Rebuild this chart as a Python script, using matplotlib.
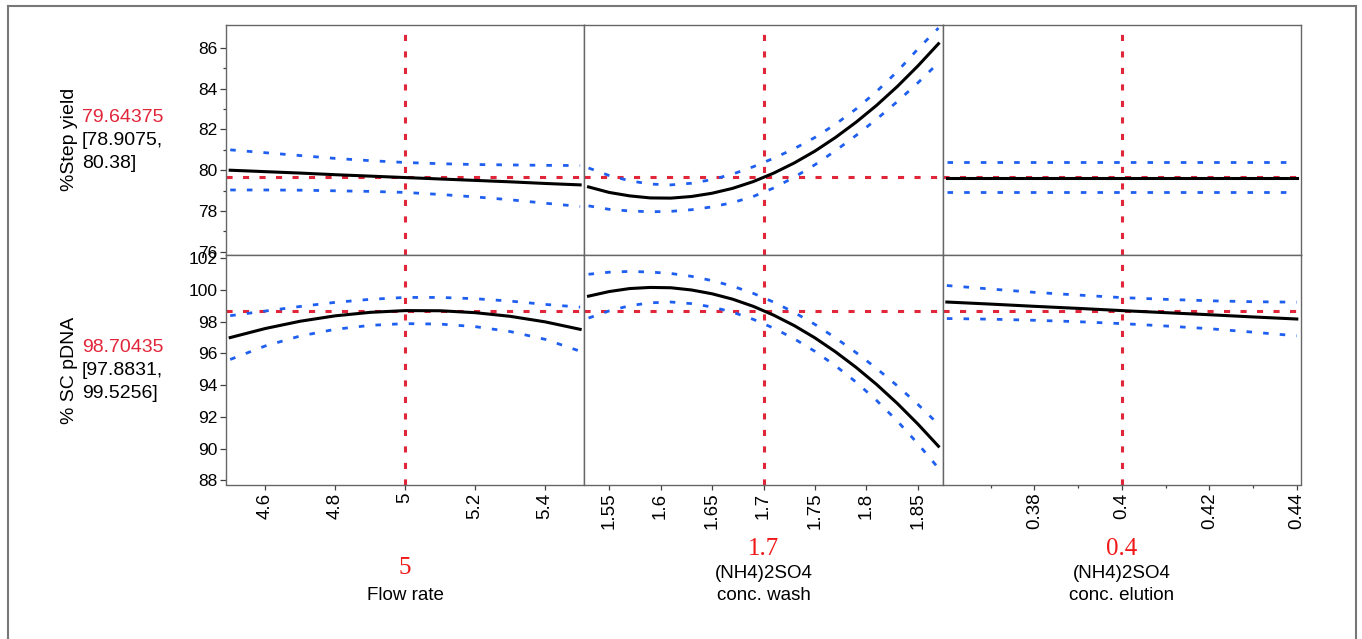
#!/usr/bin/env python3
"""
Prediction profiler for the pDNA capture step.

Two responses (step yield, supercoiled pDNA) against three factors
(flow rate, (NH4)2SO4 wash and elution concentration), with the
prediction trace, its confidence band and the current settings.
"""

import matplotlib
matplotlib.use('Agg')
import matplotlib.pyplot as plt
from matplotlib.lines import Line2D
from matplotlib.ticker import FixedLocator, FuncFormatter

# Factor grids
flow_x = [4.5, 4.6, 4.7, 4.8, 4.9, 5.0, 5.1, 5.2, 5.3, 5.4, 5.5]
wash_x = [1.53, 1.55, 1.57, 1.59, 1.61, 1.63, 1.65, 1.67, 1.69,
          1.71, 1.73, 1.75, 1.77, 1.79, 1.81, 1.83, 1.85, 1.87]
elution_x = [0.36, 0.37, 0.38, 0.39, 0.40, 0.41, 0.42, 0.43, 0.44]

# %Step yield traces
yield_flow_pred = [80.00, 79.93, 79.86, 79.78, 79.71, 79.64, 79.57, 79.50, 79.43, 79.35, 79.28]
yield_flow_hi = [81.00, 80.86, 80.72, 80.58, 80.47, 80.38, 80.32, 80.28, 80.26, 80.24, 80.23]
yield_flow_lo = [79.03, 79.03, 79.02, 78.99, 78.96, 78.91, 78.81, 78.69, 78.55, 78.38, 78.22]

yield_wash_pred = [79.18, 78.91, 78.74, 78.64, 78.63, 78.71, 78.87, 79.11, 79.44,
                   79.86, 80.36, 80.94, 81.61, 82.36, 83.19, 84.11, 85.12, 86.21]
yield_wash_hi = [80.11, 79.74, 79.48, 79.32, 79.28, 79.36, 79.54, 79.81, 80.17,
                 80.59, 81.06, 81.61, 82.26, 83.01, 83.87, 84.85, 85.95, 86.98]
yield_wash_lo = [78.25, 78.08, 78.00, 77.96, 77.98, 78.06, 78.20, 78.41, 78.71,
                 79.13, 79.66, 80.27, 80.96, 81.71, 82.51, 83.37, 84.29, 85.28]

yield_elution_pred = [79.64, 79.64, 79.64, 79.64, 79.64, 79.64, 79.64, 79.64, 79.64]
yield_elution_hi = [80.38, 80.38, 80.38, 80.38, 80.38, 80.38, 80.38, 80.38, 80.38]
yield_elution_lo = [78.91, 78.91, 78.91, 78.91, 78.91, 78.91, 78.91, 78.91, 78.91]

# % SC pDNA traces
pdna_flow_pred = [97.00, 97.57, 98.03, 98.37, 98.59, 98.70, 98.69, 98.57, 98.34, 97.99, 97.52]
pdna_flow_hi = [98.38, 98.67, 98.96, 99.22, 99.41, 99.53, 99.53, 99.45, 99.30, 99.09, 98.92]
pdna_flow_lo = [95.62, 96.47, 97.10, 97.52, 97.77, 97.88, 97.85, 97.69, 97.38, 96.89, 96.14]

pdna_wash_pred = [99.61, 99.90, 100.09, 100.16, 100.14, 100.00, 99.76, 99.42, 98.97,
                  98.41, 97.75, 96.98, 96.10, 95.12, 94.04, 92.85, 91.55, 90.15]
pdna_wash_hi = [100.99, 101.12, 101.17, 101.13, 101.04, 100.86, 100.59, 100.24, 99.79,
                99.23, 98.58, 97.83, 96.98, 96.05, 95.05, 93.96, 92.79, 91.53]
pdna_wash_lo = [98.23, 98.68, 99.01, 99.19, 99.24, 99.14, 98.93, 98.60, 98.15,
                97.59, 96.92, 96.13, 95.22, 94.19, 93.03, 91.74, 90.31, 88.77]

pdna_elution_pred = [99.24, 99.11, 98.97, 98.84, 98.70, 98.57, 98.44, 98.30, 98.17]
pdna_elution_hi = [100.28, 100.06, 99.85, 99.68, 99.52, 99.41, 99.32, 99.26, 99.23]
pdna_elution_lo = [98.20, 98.16, 98.09, 98.00, 97.88, 97.73, 97.56, 97.34, 97.11]

# Current factor settings and predicted responses
factor_now = [5, 1.7, 0.4]
factor_head = ['', '(NH4)2SO4', '(NH4)2SO4']
factor_tail = ['Flow rate', 'conc. wash', 'conc. elution']
response_names = ['%Step yield', '% SC pDNA']
response_now = [79.64375, 98.70435]
response_ci_lo = ['[78.9075,', '[97.8831,']
response_ci_hi = ['80.38]', '99.5256]']

# Axis scales
x_ticks = [[4.6, 4.8, 5.0, 5.2, 5.4],
           [1.55, 1.6, 1.65, 1.7, 1.75, 1.8, 1.85],
           [0.38, 0.40, 0.42, 0.44]]
x_minor = [[], [], [0.37, 0.39, 0.41, 0.43]]
y_ticks = [[76, 78, 80, 82, 84, 86],
           [88, 90, 92, 94, 96, 98, 100, 102]]
y_minor = [[77, 79, 81, 83, 85], []]
y_limits = [(75.85, 87.13), (87.74, 102.22)]

RED = '#e2263a'
RED_VALUE = '#f01818'
BLUE = '#1f5ff0'
FRAME = '#666666'

W, H = 1362, 639


def fx(px):
    return px / W


def fy(py):
    return 1 - py / H


def draw_panel(ax, x, pred, lo, hi, x_now, y_now):
    ax.axvline(x_now, color=RED, lw=2.2, ls=(0, (2.0, 3.4)), zorder=1)
    ax.axhline(y_now, color=RED, lw=2.2, ls=(0, (2.0, 3.4)), zorder=1)
    ax.plot(x, hi, color=BLUE, lw=2.0, ls=(0, (2.0, 4.0)), zorder=2)
    ax.plot(x, lo, color=BLUE, lw=2.0, ls=(0, (2.0, 4.0)), zorder=2)
    ax.plot(x, pred, color='black', lw=2.2, zorder=3, solid_joinstyle='round')


def main():
    plt.rcParams['font.family'] = ['Liberation Sans', 'DejaVu Sans']

    fig, axes = plt.subplots(2, 3, figsize=(W / 100, H / 100), dpi=100)
    fig.subplots_adjust(left=fx(226), right=fx(1301), top=fy(25), bottom=fy(484.5),
                        wspace=0, hspace=0)

    traces = [
        [(flow_x, yield_flow_pred, yield_flow_lo, yield_flow_hi),
         (wash_x, yield_wash_pred, yield_wash_lo, yield_wash_hi),
         (elution_x, yield_elution_pred, yield_elution_lo, yield_elution_hi)],
        [(flow_x, pdna_flow_pred, pdna_flow_lo, pdna_flow_hi),
         (wash_x, pdna_wash_pred, pdna_wash_lo, pdna_wash_hi),
         (elution_x, pdna_elution_pred, pdna_elution_lo, pdna_elution_hi)],
    ]
    x_sets = [flow_x, wash_x, elution_x]

    for r in range(2):
        for c in range(3):
            ax = axes[r, c]
            x, pred, lo, hi = traces[r][c]
            draw_panel(ax, x, pred, lo, hi, factor_now[c], response_now[r])

            span = x_sets[c][-1] - x_sets[c][0]
            ax.set_xlim(x_sets[c][0] - 0.012 * span, x_sets[c][-1] + 0.012 * span)
            ax.set_ylim(*y_limits[r])

            for s in ax.spines.values():
                s.set_color(FRAME)
                s.set_linewidth(1.0)

            ax.xaxis.set_major_locator(FixedLocator(x_ticks[c]))
            ax.xaxis.set_minor_locator(FixedLocator(x_minor[c]))
            ax.xaxis.set_major_formatter(FuncFormatter(lambda v, p: f'{v:g}'))
            ax.yaxis.set_major_locator(FixedLocator(y_ticks[r]))
            ax.yaxis.set_minor_locator(FixedLocator(y_minor[r]))

            ax.tick_params(axis='x', which='major', direction='out', length=3.5, width=0.9,
                           color='#404040', labelsize=13.5, pad=2.5, labelrotation=90)
            ax.tick_params(axis='x', which='minor', direction='out', length=2.5, width=0.9,
                           color='#404040')
            ax.tick_params(axis='y', which='major', direction='out', length=4.5, width=0.9,
                           color='#404040', labelsize=12.5, pad=1.5)
            ax.tick_params(axis='y', which='minor', direction='out', length=2.5, width=0.9,
                           color='#404040')

            if r == 0:
                ax.tick_params(axis='x', which='both', bottom=False, labelbottom=False)
            if c > 0:
                ax.tick_params(axis='y', which='both', left=False, labelleft=False)

    # response labels with predicted value and interval
    row_mid = [139.5, 370]
    for r in range(2):
        fig.text(fx(70), fy(row_mid[r]), response_names[r], rotation=90,
                 ha='center', va='center', fontsize=14)
        fig.text(fx(82), fy(row_mid[r] - 22.5), f'{response_now[r]}', color=RED,
                 ha='left', va='center', fontsize=14)
        fig.text(fx(82), fy(row_mid[r] + 0.5), response_ci_lo[r],
                 ha='left', va='center', fontsize=14)
        fig.text(fx(82), fy(row_mid[r] + 23.5), response_ci_hi[r],
                 ha='left', va='center', fontsize=14)

    # factor labels with current setting
    col_mid = [405, 763.5, 1121.5]
    for c in range(3):
        two_line = factor_head[c] != ''
        fig.text(fx(col_mid[c]), fy(549 if two_line else 568), f'{factor_now[c]:g}',
                 color=RED_VALUE, ha='center', va='center', fontsize=18,
                 family=['Liberation Serif', 'DejaVu Serif'])
        if two_line:
            fig.text(fx(col_mid[c]), fy(574), factor_head[c],
                     ha='center', va='center', fontsize=13.5)
        fig.text(fx(col_mid[c]), fy(595), factor_tail[c],
                 ha='center', va='center', fontsize=13.5)

    # outer frame, open at the bottom
    frame = dict(color='#777777', lw=1.5, transform=fig.transFigure)
    fig.add_artist(Line2D([fx(7.5), fx(7.5)], [0, fy(6)], **frame))
    fig.add_artist(Line2D([fx(7.5), fx(1356)], [fy(6), fy(6)], **frame))
    fig.add_artist(Line2D([fx(1356), fx(1356)], [0, fy(6)], **frame))

    fig.savefig('out.png', dpi=100)


if __name__ == '__main__':
    main()
